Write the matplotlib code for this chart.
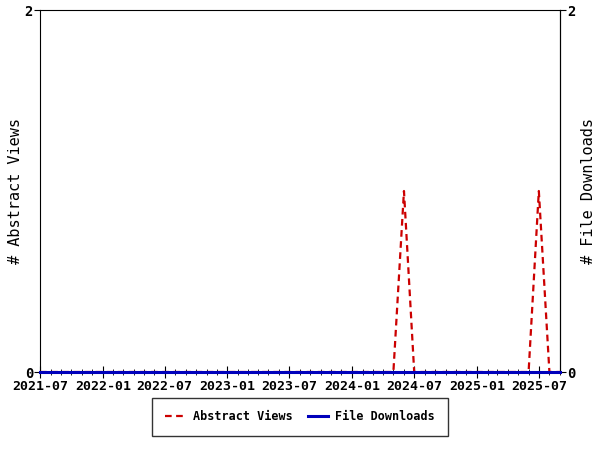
import numpy as np
import pandas as pd
from matplotlib import pyplot as plt
import matplotlib.dates as mdates

months = pd.date_range('2021-07-01', '2025-09-01', freq='MS')
abstract_views = [0] * len(months)
file_downloads = [0] * len(months)
# non-zero months
views_nonzero = {'2024-06': 1, '2025-07': 1}
for i, m in enumerate(months):
    key = m.strftime('%Y-%m')
    if key in views_nonzero:
        abstract_views[i] = views_nonzero[key]

plt.rcParams['font.family'] = 'DejaVu Sans Mono'

fig = plt.figure(figsize=(6, 4.5), dpi=100)
ax = fig.add_axes([40/600, 78/450, 520/600, 362/450])

ax2 = ax.twinx()
for side in ['top', 'bottom', 'left']:
    ax2.spines[side].set_visible(False)
ax2.set_ylim(0, 2)
ax2.set_yticks([0, 2])
ax2.tick_params(axis='y', direction='out', length=4, labelsize=10, pad=1)
for lbl in ax2.get_yticklabels():
    lbl.set_fontweight('bold')
ax2.set_ylabel('# File Downloads', fontsize=11, labelpad=4, rotation=90)

# draw data on the twin so it sits over the spines
ax2.plot(months, abstract_views, color='#cc0000', linestyle='--', linewidth=1.6,
         dashes=(3, 2), label='Abstract Views', clip_on=False, zorder=3)
ax2.plot(months, file_downloads, color='#0000bb', linewidth=2.2, label='File Downloads',
         clip_on=False, zorder=4)

ax.set_xlim(months[0], months[-1])
ax2.set_xlim(months[0], months[-1])
ax.set_ylim(0, 2)
ax.set_yticks([0, 2])
ax.xaxis.set_major_locator(mdates.MonthLocator(bymonth=[1, 7]))
ax.xaxis.set_major_formatter(mdates.DateFormatter('%Y-%m'))
ax.xaxis.set_minor_locator(mdates.MonthLocator())
ax.tick_params(axis='x', which='major', direction='inout', length=8, labelsize=9.5, pad=2)
ax.tick_params(axis='x', which='minor', direction='inout', length=5)
ax.tick_params(axis='y', direction='out', length=4, labelsize=10, pad=1)
for lbl in ax.get_xticklabels() + ax.get_yticklabels():
    lbl.set_fontweight('bold')

ax.set_ylabel('# Abstract Views', fontsize=11, labelpad=1)

leg = ax2.legend(loc='center', bbox_to_anchor=(0.5, 1 - 417/450), bbox_transform=fig.transFigure,
                 ncol=2, fontsize=8.5, frameon=True, fancybox=False, edgecolor='black',
                 handlelength=1.7, handletextpad=0.6, borderpad=1.1, columnspacing=1.3)
leg.get_frame().set_linewidth(1)
for t in leg.get_texts():
    t.set_fontweight('bold')

plt.savefig('out.png', dpi=100)
